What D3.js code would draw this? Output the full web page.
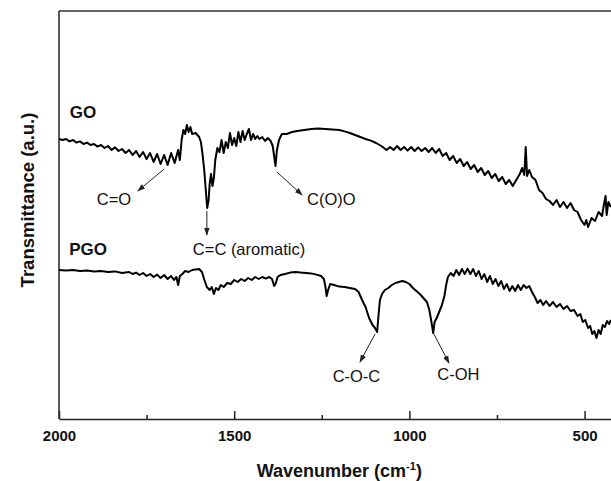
<!DOCTYPE html>
<meta charset="utf-8">
<script src="https://d3js.org/d3.v7.min.js"></script>
<style>
  body { margin: 0; background: #fff; }
  text { font-family: "Liberation Sans", Arial, sans-serif; fill: #111; }
</style>
<div id="chart"></div>
<script>
const width = 611;
const height = 481;

// Wavenumber (cm-1) and transmittance (a.u.)
const go = [
  [2000,70],[1990,69.75],[1980,70],[1970,69.4],[1960,69.75],[1950,69.1],[1940,69.4],[1930,68.75],
  [1920,69.1],[1910,68.5],[1900,68.75],[1890,68.1],[1880,68.5],[1870,67.75],[1860,68.25],[1850,67.25],
  [1840,67.9],[1830,67],[1820,67.5],[1810,66.5],[1800,67.25],[1790,66],[1780,67],[1770,65.5],
  [1760,66.75],[1750,65],[1740,66.5],[1730,64.25],[1720,66.25],[1710,63.75],[1700,66],[1690,63.5],
  [1680,66.5],[1670,64],[1660,67.25],[1655,64.75],[1650,69.75],[1645,72.25],[1640,71.25],[1635,73.5],
  [1630,71.75],[1625,73],[1620,71.25],[1610,71.5],[1600,70.5],[1595,69.25],[1590,66],[1585,61.75],
  [1580,56],[1577,52.75],[1573,54.75],[1570,58.75],[1566,61.25],[1562,58.25],[1558,60.25],[1554,64.75],
  [1548,67.75],[1542,66.75],[1536,69.75],[1530,66.5],[1524,69.25],[1518,67.75],[1512,71.5],[1506,68.5],
  [1500,70.25],[1494,68.25],[1488,71.75],[1482,69.25],[1476,72],[1470,69.75],[1464,71.25],[1458,72.5],
  [1452,69.75],[1446,71.25],[1440,70],[1434,70.75],[1428,70],[1420,70.5],[1412,69.5],[1404,70.25],
  [1396,69.5],[1390,68.25],[1386,65.75],[1382,63.25],[1378,67.25],[1372,69.75],[1364,71.25],[1350,71.25],
  [1335,71.75],[1320,72],[1300,72.25],[1280,72.5],[1260,72.6],[1240,72.5],[1220,72.4],[1200,72.25],
  [1185,71.9],[1170,71.5],[1155,71],[1140,70.5],[1125,70],[1110,69.6],[1095,69],[1080,68.25],
  [1065,67.25],[1055,68],[1045,67.25],[1035,68.25],[1025,67.25],[1015,68],[1005,67.1],[995,68],
  [985,67],[975,67.9],[965,67],[955,67.75],[945,66.75],[935,67.75],[925,66.5],[915,67.5],
  [905,65.75],[895,66.5],[885,64.75],[875,65.75],[865,64],[855,65],[845,63.25],[835,64.25],
  [825,62.5],[815,63.5],[805,61.75],[795,62.75],[785,61],[775,62],[765,60.25],[755,61.25],
  [745,59.5],[735,60.5],[725,58.75],[715,59.75],[705,58.25],[695,59.75],[685,61.25],[678,62.75],
  [672,61],[668,68],[664,60.75],[658,62.25],[650,60.5],[640,59.75],[630,57.25],[620,56.5],
  [610,55],[600,54.5],[590,53.5],[580,54.75],[570,53],[560,54.25],[550,52.75],[540,54],
  [530,52.25],[520,51.75],[510,49.75],[500,48.5],[495,49.75],[490,48],[480,50.25],[470,49.5],
  [460,51.75],[450,50.75],[445,53.5],[440,55.75],[437,51],[432,54.25],[425,53]
];

const pgo = [
  [2000,37.25],[1980,37.1],[1960,37.25],[1940,37],[1920,37.1],[1900,36.9],[1880,37],[1860,36.75],
  [1840,36.9],[1820,36.5],[1800,36.75],[1790,36.25],[1780,36.6],[1770,36],[1760,36.5],[1750,35.75],
  [1740,36.25],[1730,35.5],[1720,36.1],[1710,35.25],[1700,36],[1690,35],[1680,35.75],[1672,34.75],
  [1665,35.5],[1660,33.5],[1655,35.75],[1648,36.25],[1640,37],[1630,36.75],[1620,37.25],[1610,37.4],
  [1600,37.5],[1592,36.75],[1585,34.75],[1578,33],[1570,32.25],[1564,33],[1558,31.25],[1552,32.75],
  [1545,32.25],[1538,33.5],[1530,33],[1520,34],[1510,33.75],[1500,34.75],[1490,34.25],[1480,35],
  [1470,34.5],[1460,35.25],[1450,34.75],[1440,35.5],[1430,35],[1420,35.5],[1410,35.1],[1400,35.5],
  [1392,35],[1386,33.25],[1382,33.75],[1376,35.5],[1368,36],[1355,36.25],[1340,36.6],[1325,36.75],
  [1310,36.6],[1295,36.5],[1280,36.4],[1265,36.1],[1252,35.75],[1244,35],[1240,33.25],[1236,30.75],
  [1232,32.25],[1226,33.75],[1215,33.5],[1200,33.1],[1185,33],[1170,32.75],[1155,32.5],[1145,31.75],
  [1135,29.75],[1125,28],[1115,25.25],[1105,23.5],[1098,22.75],[1092,21.75],[1088,26],[1084,29.75],
  [1078,31.25],[1070,32.25],[1060,32.75],[1050,33.5],[1040,34],[1030,34.25],[1020,34.5],[1010,34.25],
  [1000,33.75],[990,32.75],[980,32],[970,31.25],[960,30.25],[950,29.25],[943,27.25],[937,24.25],
  [932,21.5],[928,24.25],[922,25.25],[915,26.75],[908,28.25],[900,30.75],[895,33.5],[890,35.5],
  [882,36.5],[874,35.75],[866,37.25],[858,36],[850,37.5],[842,36.25],[834,37.6],[826,36.25],
  [818,37.5],[810,35.75],[802,37],[794,35],[786,36.25],[778,34.25],[770,35.75],[762,33.75],
  [754,35],[746,33.25],[738,34.5],[730,32.5],[722,33.75],[714,32],[706,33.25],[698,32],
  [690,33.5],[682,32.25],[674,33.5],[666,32.75],[658,33.25],[650,31.75],[642,30.5],[634,29],
  [626,29.75],[618,28.5],[610,29.5],[600,28.25],[590,29.25],[580,28],[570,28.75],[560,27.5],
  [550,28.25],[540,27],[530,27.25],[520,25.75],[512,26.25],[505,24.25],[498,24.75],[490,22.75],
  [484,23.25],[478,21.25],[472,22],[466,20.25],[460,22.25],[454,21.25],[448,23.5],[442,23],
  [436,24.5],[430,23.75],[425,24.75]
];

// Axis ticks
const majorTicks = [2000, 1500, 1000, 500];
const minorTicks = [1750, 1250, 750];

// Sample names and band assignments (arrow from -> to, label position)
const sampleLabels = [
  { name: "GO", w: 1969, t: 75.25 },
  { name: "PGO", w: 1971, t: 41 }
];
const bands = [
  { label: "C=O", from: [1700, 62.5], to: [1775, 57], text: [1843, 53.5], anchor: "middle" },
  { label: "C=C (aromatic)", from: [1578, 52], to: [1578, 46], text: [1618, 41], anchor: "start" },
  { label: "C(O)O", from: [1378, 61.75], to: [1306, 56], text: [1292, 53.5], anchor: "start" },
  { label: "C-O-C", from: [1098, 21.25], to: [1141, 14.25], text: [1151, 9.25], anchor: "middle" },
  { label: "C-OH", from: [930, 21.25], to: [887, 14], text: [860, 9.75], anchor: "middle" }
];

const margin = { top: 11, left: 59, bottom: 62 };

const svg = d3.select("#chart")
  .append("svg")
    .attr("width", width)
    .attr("height", height);

const x = d3.scaleLinear()
  .domain([2000, 400])
  .range([margin.left, 619.6]);

const y = d3.scaleLinear()
  .domain([0, 102])
  .range([height - margin.bottom, margin.top]);

const x0 = x.range()[0], y0 = y.range()[0], yTop = y.range()[1];

// arrow marker
svg.append("defs").append("marker")
    .attr("id", "arrow")
    .attr("viewBox", "0 0 10 10")
    .attr("refX", 9).attr("refY", 5)
    .attr("markerWidth", 8).attr("markerHeight", 8)
    .attr("markerUnits", "userSpaceOnUse")
    .attr("orient", "auto")
  .append("path")
    .attr("d", "M0,1.5 L10,5 L0,8.5 Z")
    .attr("fill", "#222");

// frame: left axis and top border
svg.append("line")
    .attr("x1", x0).attr("x2", x0).attr("y1", yTop).attr("y2", y0)
    .attr("stroke", "#222").attr("stroke-width", 1.5);
svg.append("line")
    .attr("x1", x0).attr("x2", width).attr("y1", yTop).attr("y2", yTop)
    .attr("stroke", "#333").attr("stroke-width", 1.5);

// bottom axis, ticks pointing inward
const xAxis = svg.append("g")
    .attr("transform", `translate(0,${y0})`)
    .call(d3.axisBottom(x).tickValues(majorTicks).tickFormat(d3.format("d"))
      .tickSizeInner(-8).tickSizeOuter(0));
xAxis.select(".domain").attr("stroke", "#222").attr("stroke-width", 1.5);
xAxis.selectAll(".tick line").attr("stroke", "#222").attr("stroke-width", 1.5);
xAxis.selectAll("text")
    .attr("y", 11)
    .style("font-size", "15px")
    .style("font-weight", "bold")
    .style("font-family", "'Liberation Sans', Arial, sans-serif")
    .attr("fill", "#111");

const xMinor = svg.append("g")
    .attr("transform", `translate(0,${y0})`)
    .call(d3.axisBottom(x).tickValues(minorTicks).tickSizeInner(-4).tickSizeOuter(0).tickFormat(""));
xMinor.select(".domain").remove();
xMinor.selectAll(".tick line").attr("stroke", "#222").attr("stroke-width", 1.5);

// spectra
const line = d3.line()
  .x(d => x(d[0]))
  .y(d => y(d[1]));

svg.append("g")
  .selectAll("path")
  .data([go, pgo])
  .join("path")
    .attr("d", line)
    .attr("fill", "none")
    .attr("stroke", "#000")
    .attr("stroke-width", 2)
    .attr("stroke-linejoin", "round");

// sample labels
svg.append("g")
  .selectAll("text")
  .data(sampleLabels)
  .join("text")
    .attr("x", d => x(d.w))
    .attr("y", d => y(d.t))
    .style("font-size", "17px")
    .style("font-weight", "bold")
    .text(d => d.name);

// band arrows and names
const ann = svg.append("g");
ann.selectAll("line")
  .data(bands)
  .join("line")
    .attr("x1", d => x(d.from[0])).attr("y1", d => y(d.from[1]))
    .attr("x2", d => x(d.to[0])).attr("y2", d => y(d.to[1]))
    .attr("stroke", "#222")
    .attr("stroke-width", 1)
    .attr("marker-end", "url(#arrow)");
ann.selectAll("text")
  .data(bands)
  .join("text")
    .attr("x", d => x(d.text[0]))
    .attr("y", d => y(d.text[1]))
    .attr("text-anchor", d => d.anchor)
    .style("font-size", "16.5px")
    .text(d => d.label);

// axis titles
const xTitle = svg.append("text")
    .attr("x", (x0 + x.range()[1]) / 2)
    .attr("y", 477)
    .attr("text-anchor", "middle")
    .style("font-size", "18px")
    .style("font-weight", "bold");
xTitle.append("tspan").text("Wavenumber (cm");
xTitle.append("tspan").attr("dy", -7).style("font-size", "11px").text("-1");
xTitle.append("tspan").attr("dy", 7).text(")");

svg.append("text")
    .attr("transform", `translate(34,${(yTop + y0) / 2 - 15}) rotate(-90)`)
    .attr("text-anchor", "middle")
    .style("font-size", "18.5px")
    .style("font-weight", "bold")
    .text("Transmittance (a.u.)");
</script>
